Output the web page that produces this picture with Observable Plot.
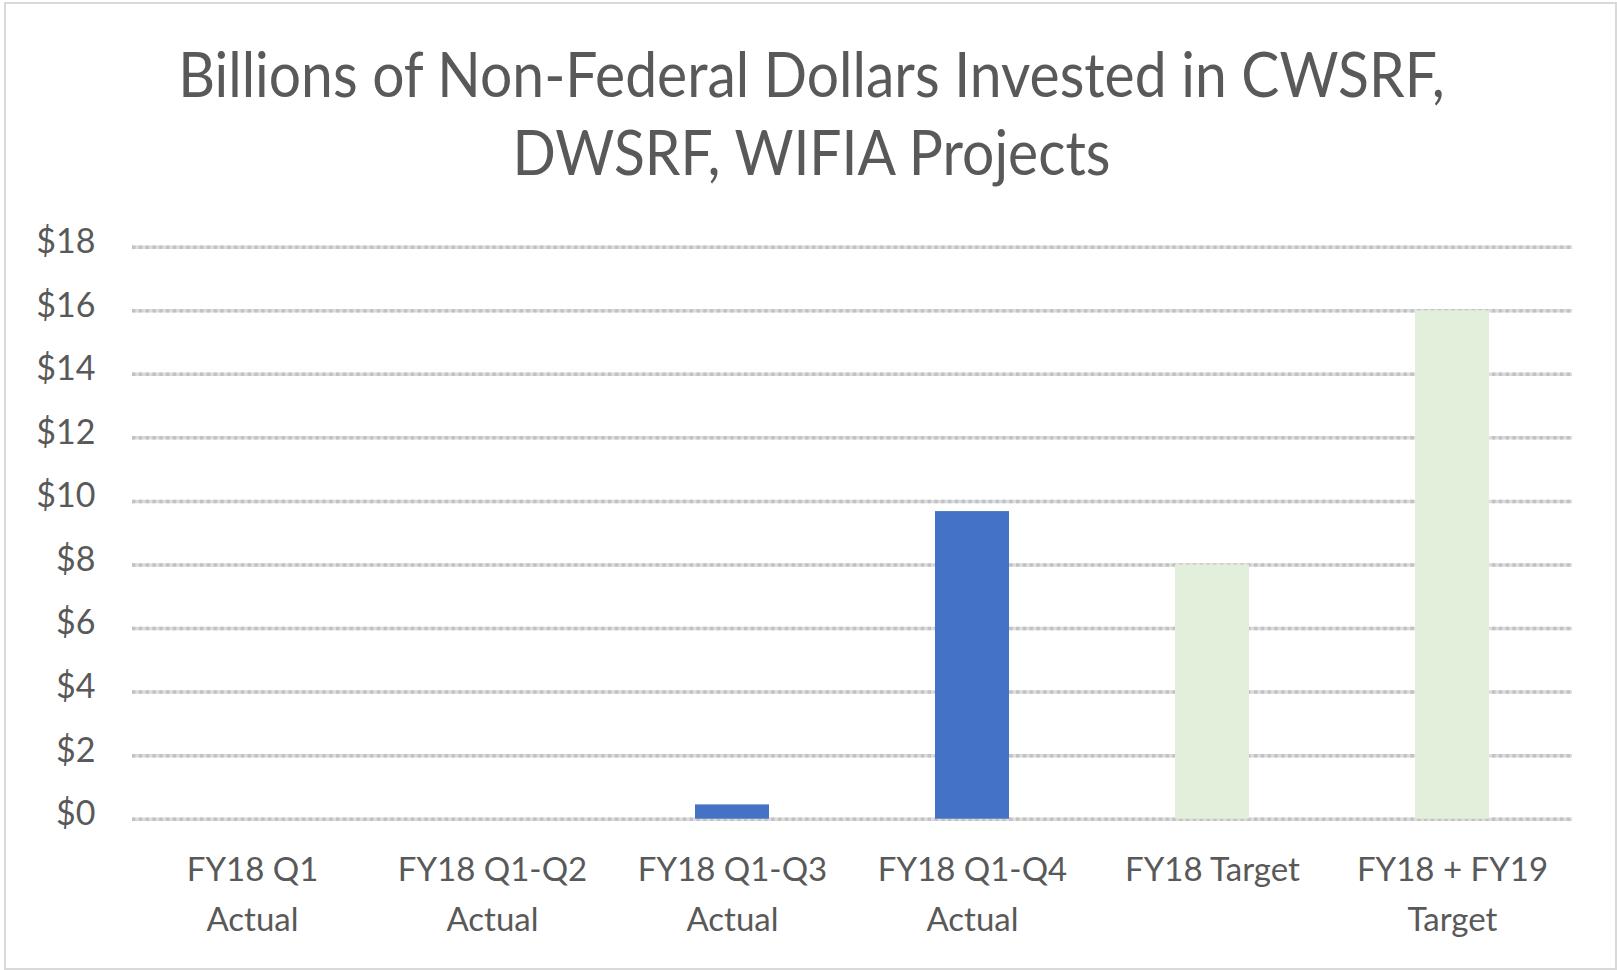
<!DOCTYPE html>
<html>
<head>
<meta charset="utf-8">
<script src="https://cdn.jsdelivr.net/npm/d3@7"></script>
<script src="https://cdn.jsdelivr.net/npm/@observablehq/plot@0.6"></script>
<style>
  html, body { margin: 0; padding: 0; background: #fff; }
  #wrap { position: relative; width: 1617px; height: 970px; overflow: hidden; }
  #border { position: absolute; left: 4px; top: 2px; width: 1609px; height: 964px; border: 2px solid #d9d9d9; }
  #title { position: absolute; left: 0; top: 34px; width: 1617px; text-align: center;
           font-family: Lato, "Open Sans", sans-serif; font-size: 57px; line-height: 71px; color: #595959;
           padding-left: 6px; box-sizing: border-box; transform: scaleY(1.1); transform-origin: 50% 0; }
  #chart { position: absolute; left: 0; top: 0; }
</style>
</head>
<body>
<div id="wrap">
  <div id="border"></div>
  <div id="title">Billions of Non-Federal Dollars Invested in CWSRF,<br>DWSRF, WIFIA Projects</div>
  <div id="chart"></div>
</div>
<script>
const categories = [
  "FY18 Q1\nActual",
  "FY18 Q1-Q2\nActual",
  "FY18 Q1-Q3\nActual",
  "FY18 Q1-Q4\nActual",
  "FY18 Target",
  "FY18 + FY19\nTarget"
];
const values = [0, 0, 0.45, 9.68, 8, 16];
const kinds = ["Actual", "Actual", "Actual", "Actual", "Target", "Target"];
const yTicks = [0, 2, 4, 6, 8, 10, 12, 14, 16, 18];

const data = categories.map((c, i) => ({category: c, value: values[i], kind: kinds[i]}));

const chart = Plot.plot({
  width: 1617,
  height: 970,
  marginTop: 246.7,
  marginBottom: 151.3,
  marginLeft: 132,
  marginRight: 45,
  style: {fontFamily: "Lato, 'Open Sans', sans-serif", color: "#595959", background: "transparent"},
  x: {domain: categories, paddingInner: 0.69, paddingOuter: 0.345, align: 0.5, label: null},
  y: {domain: [0, 18], label: null},
  color: {domain: ["Actual", "Target"], range: ["#4472C4", "#E2EFDA"]},
  marks: [
    Plot.gridY(yTicks, {stroke: "#dcdcdc", strokeOpacity: 1, strokeWidth: 3.5}),
    Plot.gridY(yTicks, {stroke: "#c2c2c2", strokeOpacity: 1, strokeWidth: 3.5, strokeDasharray: "3.4,3.4"}),
    Plot.barY(data, {x: "category", y: "value", fill: "kind"}),
    Plot.axisY(yTicks, {tickSize: 0, tickPadding: 37, fontSize: 34, dy: -5, fill: "#595959", tickFormat: d => "$" + d}),
    Plot.axisX({tickSize: 0, tickPadding: 26, fontSize: 33, lineHeight: 1.52, fill: "#595959"})
  ]
});
document.getElementById("chart").appendChild(chart);
</script>
</body>
</html>
